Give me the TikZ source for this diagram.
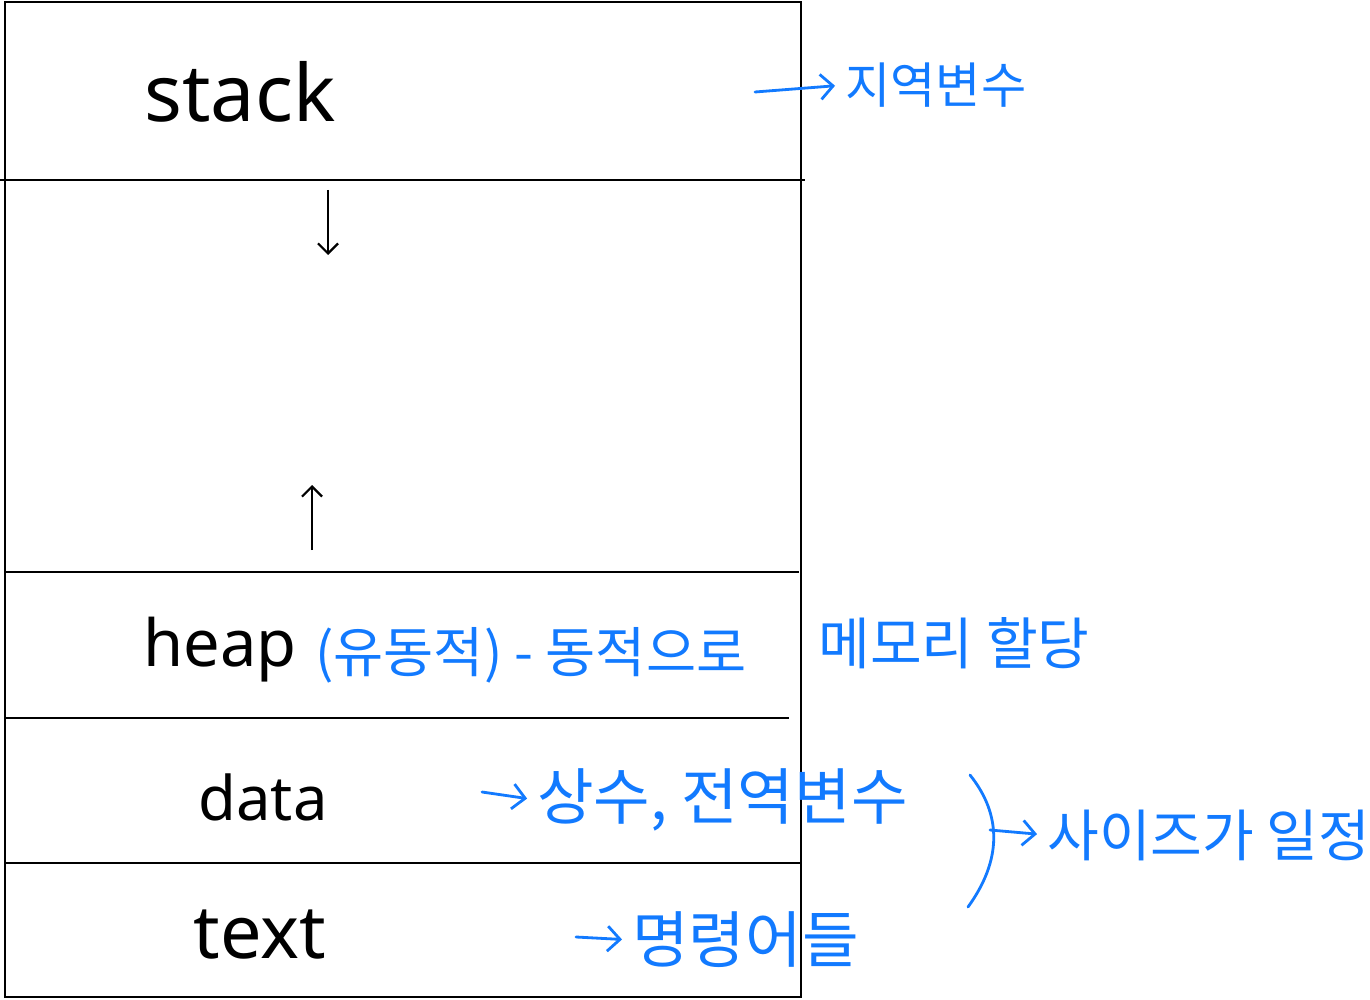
\documentclass[tikz,border=0pt]{standalone}
\usepackage{fontspec}
\setmainfont{Noto Sans}
\newfontfamily\krfont{Noto Sans CJK KR}
\usepackage{xcolor}
\usepackage{tikz}
\usetikzlibrary{arrows.meta}
\definecolor{handblue}{RGB}{18,122,255}

\begin{document}
\begin{tikzpicture}[
  x=0.02cm, y=-0.02cm,
  seg/.style={line width=1.3pt},
  lbl/.style={font=\fontsize{42}{48}\selectfont, inner sep=0pt},
  note/.style={text=handblue, font=\krfont\fontsize{32}{38}\selectfont,
               anchor=west, inner sep=0pt},
  hand/.style={draw=handblue, line width=1.6pt, line cap=round,
               -{Straight Barb[length=2.5mm, width=5mm]}, shorten >=2mm},
  brace/.style={draw=handblue, line width=1.6pt, line cap=round},
  growarrow/.style={line width=1.3pt, -{Straight Barb[length=2mm, width=4mm]}}
]
\useasboundingbox (0,0) rectangle (1370,1000);

% memory column
\draw[seg] (5,2) rectangle (801,997);
\draw[seg] (0,180) -- (805,180);
\draw[seg] (5,572) -- (799,572);
\draw[seg] (5,718) -- (789,718);
\draw[seg] (5,863) -- (801,863);

\node[lbl, font=\fontsize{45}{50}\selectfont] (stack) at (240,92) {stack};
\node[lbl, font=\fontsize{37}{44}\selectfont] (heap) at (220,650) {heap};
\node[lbl, font=\fontsize{35}{42}\selectfont] (data) at (263,797) {data};
\node[lbl] (text) at (260,935) {text};

% growth directions
\coordinate (s0) at (328,190);
\coordinate (s1) at (328,255);
\coordinate (h0) at (312,550);
\coordinate (h1) at (312,485);
\draw[growarrow] (s0) -- (s1);
\draw[growarrow] (h0) -- (h1);

% notes
\node[note, font=\krfont\fontsize{28}{32}\selectfont] (local) at (845,85) {지역변수};
\node[note, font=\krfont\fontsize{31}{36}\selectfont] (dyn) at (315,655) {(유동적) - 동적으로};
\node[note] (alloc)  at (818,643) {메모리 할당};
\node[note, font=\krfont\fontsize{35}{40}\selectfont] (global) at (537,800) {상수, 전역변수};
\node[note, font=\krfont\fontsize{35}{40}\selectfont] (instr) at (632,940) {명령어들};
\node[note] (fixed)  at (1047,835) {사이즈가 일정};

\coordinate (l0) at (755,92);
\coordinate (g0) at (482,792);
\coordinate (i0) at (576,937);
\coordinate (b0) at (970,775);
\coordinate (b1) at (968,907);
\coordinate (b2) at (990,830);

% edges
\draw[hand] (l0) -- (local.west);
\draw[hand] (g0) -- (global.west);
\draw[hand] (i0) -- (instr.west);
\draw[brace] (b0) .. controls (1002,815) and (1002,860) .. (b1);
\draw[hand] (b2) -- (fixed.west);
\end{tikzpicture}
\end{document}
